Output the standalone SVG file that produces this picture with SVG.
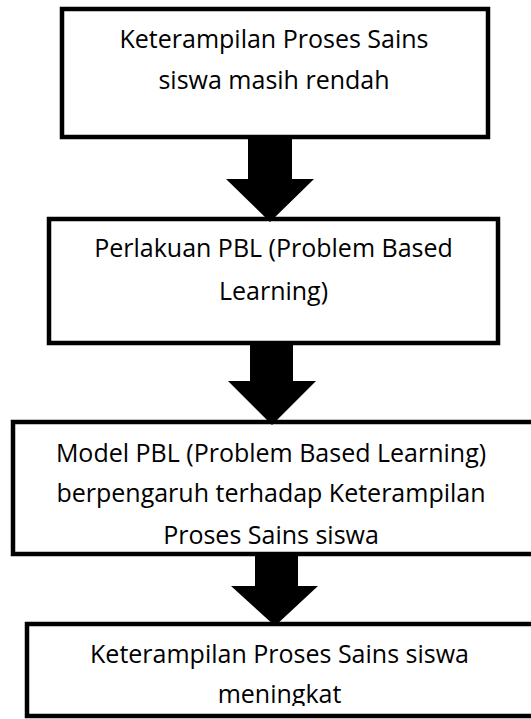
<svg xmlns="http://www.w3.org/2000/svg" width="531" height="719" viewBox="0 0 531 719">
<style>
.box{fill:#fff;stroke:#000;stroke-width:4.5}
.t{font-family:"Open Sans","Noto Sans",sans-serif;font-size:25px;fill:#000;text-anchor:middle}
.arr{fill:#000}
</style>
<defs>
<clipPath id="c4"><rect x="0" y="620" width="531" height="86"/></clipPath>
</defs>
<rect width="531" height="719" fill="#fff"/>
<g id="node1">
<rect class="box" x="62" y="9" width="426" height="128"/>
<text class="t" x="274" y="48">Keterampilan Proses Sains</text>
<text class="t" x="274" y="89">siswa masih rendah</text>
</g>
<g id="node2">
<rect class="box" x="49" y="219" width="449" height="124"/>
<text class="t" x="273.5" y="257">Perlakuan PBL (Problem Based</text>
<text class="t" x="273.5" y="300">Learning)</text>
</g>
<g id="node3">
<rect class="box" x="13" y="422" width="530" height="132"/>
<text class="t" x="271" y="462">Model PBL (Problem Based Learning)</text>
<text class="t" x="271" y="502">berpengaruh terhadap Keterampilan</text>
<text class="t" x="271" y="544">Proses Sains siswa</text>
</g>
<g id="node4">
<rect class="box" x="27" y="624" width="520" height="92"/>
<g clip-path="url(#c4)">
<text class="t" x="279.5" y="663">Keterampilan Proses Sains siswa</text>
<text class="t" x="279.5" y="703">meningkat</text>
</g>
</g>
<g id="connectors">
<polygon class="arr" points="248,135 292,135 292,179 314,179 270,222 226,179 248,179"/>
<polygon class="arr" points="250,341 293,341 293,381 316,381 272,425 228,381 250,381"/>
<polygon class="arr" points="255,552 298,552 298,586 318,586 275,626 231,586 255,586"/>
</g>
</svg>
